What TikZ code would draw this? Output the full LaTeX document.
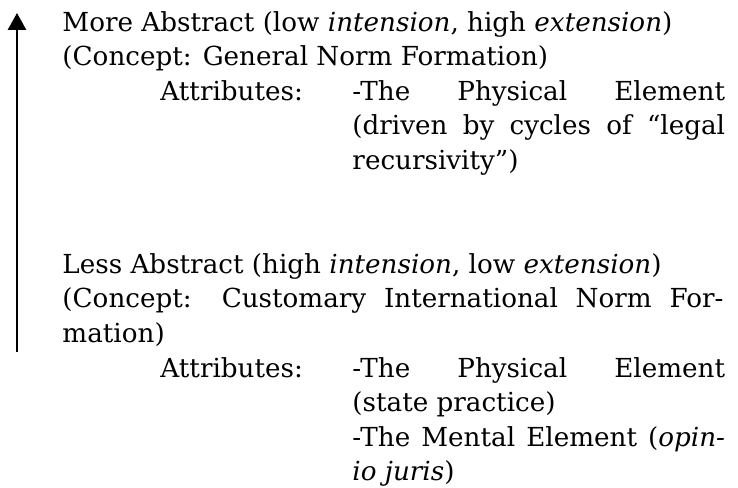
\documentclass[tikz,border=0pt]{standalone}
\usepackage{fontspec}
\setmainfont{DejaVu Serif}
\usetikzlibrary{arrows.meta}

\begin{document}
\begin{tikzpicture}[x=0.416pt,y=-0.416pt,
 txt/.style={inner sep=0pt,anchor=base west,font=\fontsize{10.9}{14.4}\selectfont},
 para/.style={txt,text width=#1,align=justify}]
 \useasboundingbox (0,0) rectangle (738,487);
 \coordinate (Low) at (17,352);
 \coordinate (High) at (17,13);
 \draw[line width=0.9pt,-{Triangle[width=7.5pt,length=7pt]}] (Low)--(High);
 \node[para=275pt] (more) at (62,31)
 {More Abstract (low \textit{intension}, high \textit{extension})\\
 (Concept: General Norm Formation)};
 \node[txt] (attrup) at (160,100) {Attributes:};
 \node[para=155pt] (elemup) at (352,100)
 {-The Physical Element\linebreak
 (driven by cycles of ``legal\linebreak
 recursivity'')};
 \node[para=275pt] (less) at (62,273)
 {Less Abstract (high \textit{intension}, low \textit{extension})\\
 (Concept: Customary International Norm For-\linebreak
 mation)};
 \node[txt] (attrlow) at (160,377) {Attributes:};
 \node[para=155pt] (elemlow) at (352,377)
 {-The Physical Element\linebreak
 (state practice)\\
 -The Mental Element (\textit{opin-}\linebreak
 \textit{io juris})};
\end{tikzpicture}
\end{document}
